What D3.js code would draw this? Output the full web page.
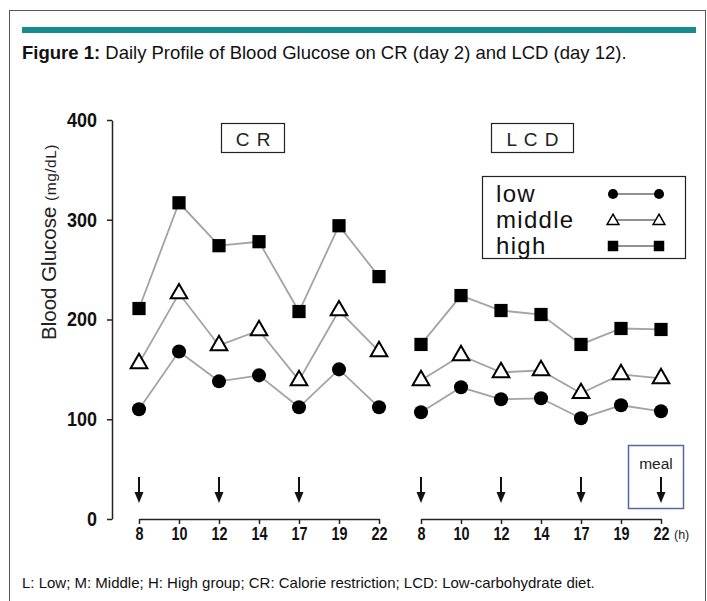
<!DOCTYPE html>
<html>
<head>
<meta charset="utf-8">
<script src="https://cdn.jsdelivr.net/npm/d3@7/dist/d3.min.js"></script>
<style>
  html, body { margin: 0; padding: 0; background: #fff; }
  svg { display: block; }
</style>
</head>
<body>
<svg id="chart" width="707" height="601"></svg>
<script>
// ---------------- data ----------------
const times = ["8", "10", "12", "14", "17", "19", "22"];
const yTicks = [0, 100, 200, 300, 400];
const crLow = [110, 168, 138, 144, 112, 150, 112];
const crMiddle = [156, 226, 174, 189, 139, 209, 168];
const crHigh = [211, 317, 274, 278, 208, 294, 243];
const lcdLow = [107, 132, 120, 121, 101, 114, 108];
const lcdMiddle = [139, 164, 147, 149, 126, 145, 141];
const lcdHigh = [175, 224, 209, 205, 175, 191, 190];
const crMeals = ["8", "12", "17"];
const lcdMeals = ["8", "12", "17", "22"];
const seriesNames = ["low", "middle", "high"];
const panelNames = ["C R", "L C D"];

// ---------------- layout ----------------
const svg = d3.select("#chart");
const sans = "'Liberation Sans',Arial,Helvetica,sans-serif";

// frame
svg.append("rect").attr("x", 9.5).attr("y", 10.5).attr("width", 696).attr("height", 620)
  .attr("fill", "none").attr("stroke", "#555").attr("stroke-width", 1);
svg.append("rect").attr("x", 22).attr("y", 27).attr("width", 674).attr("height", 6)
  .attr("fill", "#168b90");

const title = svg.append("text").attr("x", 22).attr("y", 59)
  .attr("font-family", sans).attr("font-size", 18.5).attr("fill", "#111");
title.append("tspan").attr("font-weight", "bold").text("Figure 1:");
title.append("tspan").text(" Daily Profile of Blood Glucose on CR (day 2) and LCD (day 12).");

svg.append("text").attr("x", 22).attr("y", 588)
  .attr("font-family", sans).attr("font-size", 15).attr("fill", "#111")
  .text("L: Low; M: Middle; H: High group; CR: Calorie restriction; LCD: Low-carbohydrate diet.");

// scales
const y = d3.scaleLinear().domain([0, 400]).range([519, 120]);
const xCR = d3.scalePoint().domain(times).range([139, 379]);
const xLCD = d3.scalePoint().domain(times).range([421, 661]);

// y axis
const yAxisG = svg.append("g").attr("transform", "translate(112,0)")
  .call(d3.axisLeft(y).tickValues(yTicks).tickSize(5).tickSizeOuter(0).tickPadding(10));
yAxisG.selectAll("path,line").attr("stroke", "#222").attr("stroke-width", 1.5);
yAxisG.selectAll("text").attr("font-family", sans).attr("font-weight", "bold")
  .attr("font-size", 20).attr("fill", "#111")
  .attr("textLength", function () { return this.textContent.length * 10; })
  .attr("lengthAdjust", "spacingAndGlyphs");

// y label
const yl = svg.append("text")
  .attr("transform", "translate(56,242) rotate(-90)")
  .attr("text-anchor", "middle").attr("font-family", sans).attr("fill", "#222");
yl.append("tspan").attr("font-size", 20.5).text("Blood Glucose ");
yl.append("tspan").attr("font-size", 15.5).attr("letter-spacing", 0.5).text("(mg/dL)");

// x axes
function xAxis(scale) {
  const g = svg.append("g").attr("transform", "translate(0,519)")
    .call(d3.axisBottom(scale).tickSize(5).tickSizeOuter(0).tickPadding(4));
  g.selectAll("path,line").attr("stroke", "#222").attr("stroke-width", 1.5);
  g.selectAll("text").attr("font-family", sans).attr("font-weight", "bold")
    .attr("font-size", 17.5).attr("fill", "#111")
    .attr("textLength", function () { return this.textContent.length * 8; })
    .attr("lengthAdjust", "spacingAndGlyphs");
  return g;
}
xAxis(xCR);
xAxis(xLCD);
svg.append("text").attr("x", 674).attr("y", 539).attr("font-family", sans)
  .attr("font-size", 12.5).attr("fill", "#222").text("(h)");

// symbols
const symCircle = d3.symbol().type(d3.symbolCircle);
const symTri = d3.symbol().type(d3.symbolTriangle);
const symSquare = d3.symbol().type(d3.symbolSquare);
const styles = [
  { gen: symCircle, size: 155, fill: "#000", stroke: "none", sw: 0, lsize: 80 },
  { gen: symTri, size: 120, fill: "#fff", stroke: "#000", sw: 2, lsize: 60 },
  { gen: symSquare, size: 175, fill: "#000", stroke: "none", sw: 0, lsize: 110 }
];

function drawPanel(scale, seriesArr) {
  const line = d3.line().x((d, i) => scale(times[i])).y(d => y(d));
  seriesArr.forEach(vals => {
    svg.append("path").datum(vals).attr("d", line)
      .attr("fill", "none").attr("stroke", "#a3a3a3").attr("stroke-width", 1.8);
  });
  seriesArr.forEach((vals, si) => {
    const st = styles[si];
    svg.append("g").selectAll("path").data(vals).join("path")
      .attr("transform", (d, i) => `translate(${scale(times[i])},${y(d)})`)
      .attr("d", st.gen.size(st.size)())
      .attr("fill", st.fill).attr("stroke", st.stroke).attr("stroke-width", st.sw);
  });
}
drawPanel(xCR, [crLow, crMiddle, crHigh]);
drawPanel(xLCD, [lcdLow, lcdMiddle, lcdHigh]);

// panel labels
const panelBoxes = [
  { x: 221, w: 63, name: panelNames[0] },
  { x: 491, w: 82, name: panelNames[1] }
];
panelBoxes.forEach(p => {
  svg.append("rect").attr("x", p.x + 0.5).attr("y", 123.5).attr("width", p.w).attr("height", 29)
    .attr("fill", "none").attr("stroke", "#222").attr("stroke-width", 1.2);
  svg.append("text").attr("x", p.x + p.w / 2 + 1).attr("y", 145.5).attr("text-anchor", "middle")
    .attr("font-family", sans).attr("font-size", 19).attr("letter-spacing", 1).attr("fill", "#222")
    .text(p.name);
});

// legend
svg.append("rect").attr("x", 482.5).attr("y", 176.5).attr("width", 203).attr("height", 82)
  .attr("fill", "#fff").attr("stroke", "#222").attr("stroke-width", 1.2);
const legRows = [194, 220, 246];
seriesNames.forEach((n, i) => {
  svg.append("text").attr("x", 496).attr("y", legRows[i] + 8)
    .attr("font-family", sans).attr("font-size", 24).attr("letter-spacing", 1.3).attr("fill", "#111")
    .text(n);
  svg.append("line").attr("x1", 613).attr("x2", 659).attr("y1", legRows[i]).attr("y2", legRows[i])
    .attr("stroke", "#222").attr("stroke-width", 1.2);
  [613, 659].forEach(cx => {
    const st = styles[i];
    svg.append("path").attr("transform", `translate(${cx},${legRows[i] + (i === 1 ? 1 : 0)})`)
      .attr("d", st.gen.size(st.lsize)())
      .attr("fill", st.fill).attr("stroke", st.stroke).attr("stroke-width", st.sw ? 1.5 : 0);
  });
});

// meal arrows
function arrows(scale, list) {
  list.forEach(t => {
    const cx = scale(t);
    svg.append("line").attr("x1", cx).attr("x2", cx).attr("y1", 477).attr("y2", 494)
      .attr("stroke", "#111").attr("stroke-width", 2);
    svg.append("path").attr("d", `M${cx - 4.5},${492}L${cx + 4.5},${492}L${cx},${503}Z`)
      .attr("fill", "#111");
  });
}
arrows(xCR, crMeals);
arrows(xLCD, lcdMeals);

// meal box
svg.append("rect").attr("x", 628.5).attr("y", 445.5).attr("width", 55).attr("height", 63)
  .attr("fill", "none").attr("stroke", "#4f6c9c").attr("stroke-width", 1.5);
svg.append("text").attr("x", 656).attr("y", 469).attr("text-anchor", "middle")
  .attr("font-family", sans).attr("font-size", 15.5).attr("fill", "#222").text("meal");
</script>
</body>
</html>
